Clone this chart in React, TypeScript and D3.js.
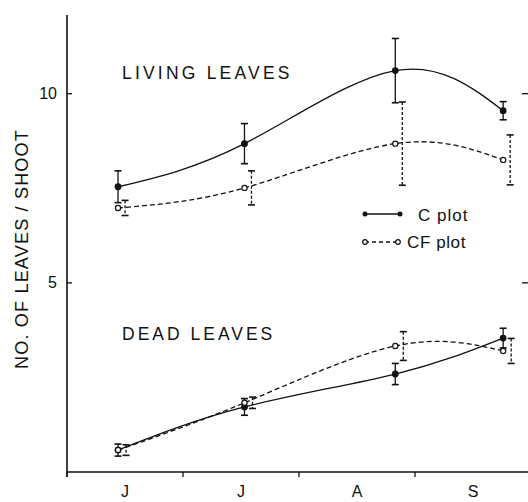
import React from "react";
import * as d3 from "d3";

// x positions of sampling dates, in months from 1 June (0 = start of June)
const sampleMonths = [0.44, 1.53, 2.83, 3.76];
const monthLabels = ["J", "J", "A", "S"];
const monthTicks = [0, 1, 2, 3, 4];
const yTicks = [5, 10];

// Living leaves
const livingC = [7.54, 8.68, 10.61, 9.55];
const livingCErr = [0.42, 0.53, 0.85, 0.24];
const livingCF = [6.98, 7.51, 8.68, 8.25];
const livingCFErr = [0.2, 0.45, 1.1, 0.66];

// Dead leaves
const deadC = [0.58, 1.72, 2.59, 3.54];
const deadCErr = [0.16, 0.22, 0.28, 0.26];
const deadCF = [0.58, 1.83, 3.33, 3.2];
const deadCFErr = [0.14, 0.15, 0.38, 0.33];

const W = 528;
const H = 502;
const FONT = "'Liberation Sans', Arial, sans-serif";

export default function App() {
  const x = d3.scaleLinear().domain([0, 4]).range([67, 531]);
  const y = d3.scaleLinear().domain([0, 12.08]).range([472, 15]);

  const line = d3
    .line<[number, number]>()
    .x((d) => x(d[0]))
    .y((d) => y(d[1]))
    .curve(d3.curveNatural);

  const pts = (vals: number[]) =>
    vals.map((v, i) => [sampleMonths[i], v] as [number, number]);

  const errBars = (
    vals: number[],
    errs: number[],
    dx: number,
    dashed: boolean,
    key: string
  ) =>
    vals.map((v, i) => {
      const cx = x(sampleMonths[i]) + dx;
      const y1 = y(v + errs[i]);
      const y2 = y(v - errs[i]);
      return (
        <g key={key + i} stroke="#111" strokeWidth={1.3}>
          <line
            x1={cx}
            x2={cx}
            y1={y1}
            y2={y2}
            strokeDasharray={dashed ? "3,2" : undefined}
          />
          <line x1={cx - 3.5} x2={cx + 3.5} y1={y1} y2={y1} strokeWidth={1.6} />
          <line x1={cx - 3.5} x2={cx + 3.5} y1={y2} y2={y2} strokeWidth={1.6} />
        </g>
      );
    });

  const dots = (vals: number[], filled: boolean, key: string) =>
    vals.map((v, i) => (
      <circle
        key={key + i}
        cx={x(sampleMonths[i])}
        cy={y(v)}
        r={filled ? 2.8 : 2.6}
        fill={filled ? "#111" : "#fff"}
        stroke="#111"
        strokeWidth={1.2}
      />
    ));

  return (
    <svg
      width={W}
      height={H}
      style={{ position: "absolute", left: 0, top: 0, background: "#fff" }}
      fontFamily={FONT}
    >
      <rect width={W} height={H} fill="#fff" />
      {/* axes */}
      <line x1={x(0)} x2={x(0)} y1={y(12.08)} y2={y(0) + 5} stroke="#111" strokeWidth={1.6} />
      <line x1={x(0)} x2={W} y1={y(0)} y2={y(0)} stroke="#111" strokeWidth={1.6} />
      {monthTicks.map((m) => (
        <line key={"mt" + m} x1={x(m)} x2={x(m)} y1={y(0)} y2={y(0) + 5} stroke="#111" strokeWidth={1.3} />
      ))}
      {monthLabels.map((l, i) => (
        <text key={"ml" + i} x={x(i + 0.5)} y={497} textAnchor="middle" fontSize={16} fill="#111">
          {l}
        </text>
      ))}
      {yTicks.map((t) => (
        <g key={"yt" + t}>
          <line x1={x(0)} x2={x(0) + 5} y1={y(t)} y2={y(t)} stroke="#111" strokeWidth={1.3} />
          <line x1={W - 6} x2={W} y1={y(t)} y2={y(t)} stroke="#111" strokeWidth={1.3} />
          <text x={x(0) - 10} y={y(t) + 5} textAnchor="end" fontSize={16} fill="#111">
            {t}
          </text>
        </g>
      ))}
      <text
        transform={`translate(28,${249}) rotate(-90)`}
        textAnchor="middle"
        fontSize={18}
        letterSpacing={1.2}
        fill="#111"
      >
        NO. OF LEAVES / SHOOT
      </text>

      {/* annotations */}
      <text x={122} y={79} fontSize={17.5} letterSpacing={3.2} fill="#111">
        LIVING LEAVES
      </text>
      <text x={122} y={340} fontSize={17.5} letterSpacing={3} fill="#111">
        DEAD LEAVES
      </text>

      {/* curves */}
      <path d={line(pts(livingC)) || ""} fill="none" stroke="#111" strokeWidth={1.3} />
      <path d={line(pts(livingCF)) || ""} fill="none" stroke="#111" strokeWidth={1.3} strokeDasharray="5,3" />
      <path d={line(pts(deadC)) || ""} fill="none" stroke="#111" strokeWidth={1.3} />
      <path d={line(pts(deadCF)) || ""} fill="none" stroke="#111" strokeWidth={1.3} strokeDasharray="5,3" />

      {/* error bars */}
      {errBars(livingC, livingCErr, 0, false, "lce")}
      {errBars(livingCF, livingCFErr, 7, true, "lfe")}
      {errBars(deadC, deadCErr, 0, false, "dce")}
      {errBars(deadCF, deadCFErr, 8, true, "dfe")}

      {/* markers */}
      {dots(livingC, true, "lcd")}
      {dots(livingCF, false, "lfd")}
      {dots(deadC, true, "dcd")}
      {dots(deadCF, false, "dfd")}

      {/* legend */}
      <line x1={365} x2={400} y1={214} y2={214} stroke="#111" strokeWidth={1.3} />
      <circle cx={365} cy={214} r={2.5} fill="#111" />
      <circle cx={400} cy={214} r={2.5} fill="#111" />
      <text x={418} y={221} fontSize={17} letterSpacing={1} fill="#111">C plot</text>
      <line x1={365} x2={398} y1={242} y2={242} stroke="#111" strokeWidth={1.3} strokeDasharray="4,3" />
      <circle cx={365} cy={242} r={2.3} fill="#fff" stroke="#111" strokeWidth={1.2} />
      <circle cx={398} cy={242} r={2.3} fill="#fff" stroke="#111" strokeWidth={1.2} />
      <text x={407} y={248} fontSize={17} letterSpacing={0.6} fill="#111">CF plot</text>
    </svg>
  );
}
